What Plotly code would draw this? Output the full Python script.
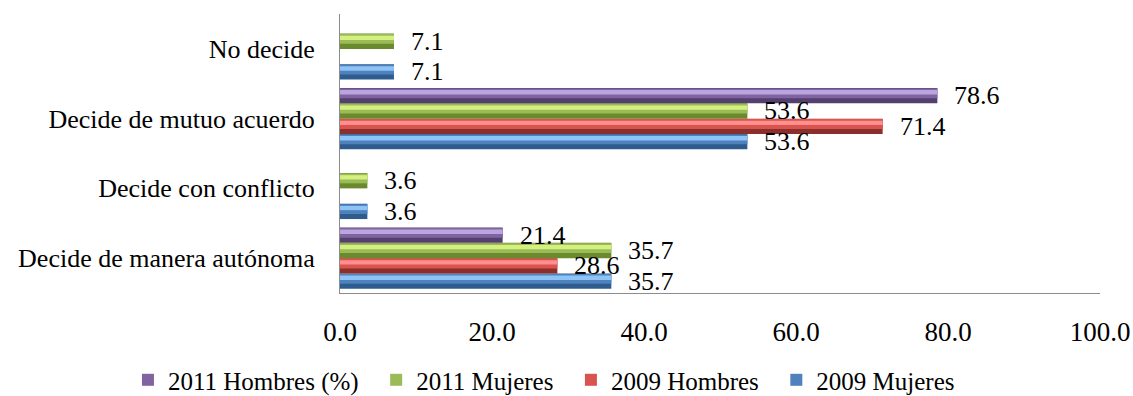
import plotly.graph_objects as go

# Categories (bottom to top) and series values (%)
categories = [
    "Decide de manera autónoma",
    "Decide con conflicto",
    "Decide de mutuo acuerdo",
    "No decide",
]
mujeres_2009 = [35.7, 3.6, 53.6, 7.1]
hombres_2009 = [28.6, None, 71.4, None]
mujeres_2011 = [35.7, 3.6, 53.6, 7.1]
hombres_2011 = [21.4, None, 78.6, None]

x_ticks = [0, 20, 40, 60, 80, 100]

FONT = "Liberation Serif, Times New Roman, serif"
BAR_W = 0.22
PAD = "\u00a0\u00a0"  # extra room after each legend entry

# name, values, offset in category units, (dark, main, light) shades, legend rank
series = [
    ("2009 Mujeres", mujeres_2009, -0.44, ("#2E5C8F", "#4F81BD", "#8EC3F5"), 4),
    ("2009 Hombres", hombres_2009, -0.22, ("#8B2F2C", "#D9534F", "#FF8E8C"), 3),
    ("2011 Mujeres", mujeres_2011, 0.00, ("#6B8A2E", "#9BBB59", "#D4F07F"), 2),
    ("2011 Hombres (%)", hombres_2011, 0.22, ("#54406F", "#8064A2", "#BBA5DF"), 1),
]

fig = go.Figure()
annotations = []
for name, vals, off, (dark, main, light), rank in series:
    # bevelled look: dark body, main face, light highlight stripe
    stripes = [
        (dark, 0.0, 1.0, False),
        (main, 0.33, 0.97, True),
        (light, 0.58, 0.86, False),
    ]
    for color, lo, hi, show in stripes:
        fig.add_trace(go.Bar(
            x=vals,
            y=categories,
            orientation="h",
            offset=off + lo * BAR_W,
            width=(hi - lo) * BAR_W,
            marker=dict(color=color, line=dict(width=0)),
            name=name + PAD,
            legendgroup=name,
            showlegend=show,
            legendrank=rank,
            hoverinfo=None if show else "skip",
        ))
    for i, v in enumerate(vals):
        if v is None:
            continue
        annotations.append(dict(
            x=v, y=i + off + BAR_W / 2, xref="x", yref="y",
            text=f"{v:.1f}", showarrow=False,
            xanchor="left", yanchor="middle", xshift=15,
            font=dict(family=FONT, size=26, color="#000000"),
        ))

fig.update_layout(
    width=1133, height=396,
    margin=dict(l=340, r=33, t=14, b=103, autoexpand=False),
    barmode="overlay",
    paper_bgcolor="white",
    plot_bgcolor="white",
    font=dict(family=FONT, size=26, color="#000000"),
    annotations=annotations,
    legend=dict(
        orientation="h",
        xref="paper", yref="paper",
        x=-0.279, y=-0.312, xanchor="left", yanchor="middle",
        font=dict(family=FONT, size=25, color="#000000"),
        itemwidth=30,
        bgcolor="rgba(0,0,0,0)",
    ),
    xaxis=dict(
        range=[0, 100],
        tickvals=x_ticks,
        tickformat=".1f",
        tickfont=dict(family=FONT, size=27),
        showgrid=False,
        zeroline=False,
        showline=True,
        linecolor="#8C8C8C",
        linewidth=1,
        ticks="",
        ticklabelstandoff=15,
        fixedrange=True,
    ),
    yaxis=dict(
        categoryorder="array",
        categoryarray=categories,
        range=[-0.5, 3.5],
        tickfont=dict(family=FONT, size=26),
        showgrid=False,
        zeroline=False,
        showline=True,
        linecolor="#8C8C8C",
        linewidth=1,
        ticks="",
        ticklabelstandoff=19,
        fixedrange=True,
    ),
)

fig.write_html("out.html")
